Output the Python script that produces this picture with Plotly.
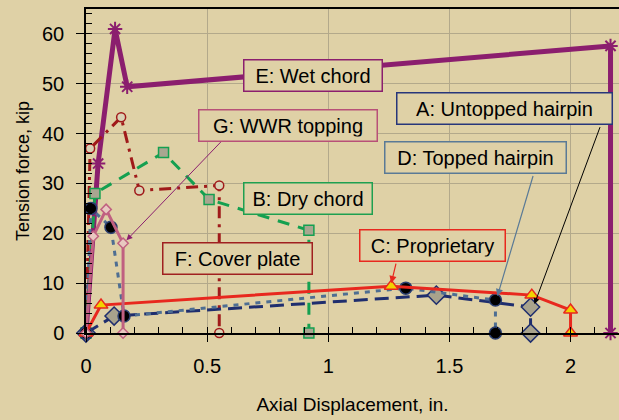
import plotly.graph_objects as go

# ---- data (Axial displacement in., Tension force kip) ----
a_x = [0, 0.116, 1.446, 1.835, 1.835]
a_y = [0, 3.4, 7.6, 5.2, 0]

b_x = [0, 0.037, 0.32, 0.508, 0.92, 0.92]
b_y = [0, 28.0, 36.2, 26.8, 20.6, 0]

c_x = [0, 0.062, 1.26, 1.84, 2.0, 2.0]
c_y = [0, 5.6, 9.4, 7.6, 4.6, 0]

d_x = [0, 0.02, 0.103, 0.157, 1.32, 1.69, 1.69]
d_y = [0, 25.0, 21.2, 3.4, 9.0, 6.6, 0]

e_x = [0, 0.05, 0.12, 0.17, 2.165, 2.165]
e_y = [0, 34.0, 61.0, 49.4, 57.6, 0]

f_x = [0, 0.017, 0.145, 0.22, 0.55, 0.55]
f_y = [0, 37.0, 43.3, 28.6, 29.6, 0]

g_x = [0, 0.03, 0.083, 0.153, 0.153]
g_y = [0, 19.4, 24.8, 18.0, 0]

x_ticks = [0, 0.5, 1, 1.5, 2]
x_ticktext = ["0", "0.5", "1", "1.5", "2"]
y_ticks = [0, 10, 20, 30, 40, 50, 60]

labels = {
    "A": "A: Untopped hairpin",
    "B": "B: Dry chord",
    "C": "C: Proprietary",
    "D": "D: Topped hairpin",
    "E": "E: Wet chord",
    "F": "F: Cover plate",
    "G": "G: WWR topping",
}

BG = "#DFD1A6"
FONT = "Arial, Liberation Sans, sans-serif"

fig = go.Figure()

def add(x, y, color, width, dash, msym, msize, mfill, mline, mlw=1.5):
    fig.add_trace(go.Scatter(
        x=x, y=y, mode="lines+markers", cliponaxis=False,
        line=dict(color=color, width=width, dash=dash),
        marker=dict(symbol=msym, size=msize, color=mfill,
                    line=dict(color=mline, width=mlw)),
        showlegend=False, hoverinfo="skip"))

add(e_x, e_y, "#8B1E6E", 5, "solid", "asterisk-open", 12, "#8B1E6E", "#8B1E6E", 2)
add(f_x, f_y, "#A01A1A", 3, "12px,6px,3px,6px", "circle", 9, "#D9D2B6", "#A01A1A")
add(b_x, b_y, "#14A050", 3, "12px,9px", "square", 10, "#A9A690", "#14A050")
add(a_x, a_y, "#1F2E6E", 3, "14px,7px", "diamond", 14, "#A9A38C", "#1F2E6E")
add(d_x, d_y, "#4E6E92", 3, "5px,6px", "circle", 12, "#000000", "#2A3E70")
add(c_x, c_y, "#E8281E", 3, "solid", "triangle-up", 12, "#F2D200", "#E8281E")
add(g_x, g_y, "#C06080", 3, "solid", "diamond", 8, "#E8C8C0", "#C06080")

def px2x(p):
    return (p - 86) / 242.0

def px2y(p):
    return (333 - p) / 5.0

boxes = [
    ("E", 313, 74.5, 140, "#8B1E6E"),
    ("G", 288, 124.5, 180, "#B85078"),
    ("A", 504.5, 108, 217, "#27367A"),
    ("D", 475.5, 156.5, 183, "#5A7A96"),
    ("B", 308, 198.5, 130, "#1EA050"),
    ("F", 237.5, 258, 151, "#A02020"),
    ("C", 432.5, 245, 147, "#E8281E"),
]

annotations = []
for key, cx, cy, w, col in boxes:
    annotations.append(dict(
        x=px2x(cx), y=px2y(cy), xref="x", yref="y", text=labels[key],
        showarrow=False, xanchor="center", yanchor="middle",
        font=dict(family=FONT, size=20, color="#000000"),
        bgcolor=BG, bordercolor=col, borderwidth=1.5, borderpad=4,
        width=w - 11, height=22))

arrows = [
    (px2x(222), px2y(140), g_x[3] + 0.014, g_y[3] + 0.6, "#8B1E6E", 1),
    (px2x(396), px2y(262), c_x[2], c_y[2] + 0.6, "#E8281E", 1.2),
    (px2x(533), px2y(174), d_x[5] + 0.008, d_y[5] + 0.8, "#5A7A96", 1.2),
    (px2x(600), px2y(125), a_x[3] + 0.016, a_y[3] + 0.6, "#000000", 1),
]
for tx, ty, hx, hy, col, lw in arrows:
    annotations.append(dict(
        x=hx, y=hy, ax=tx, ay=ty, xref="x", yref="y", axref="x", ayref="y",
        text="", showarrow=True, arrowhead=2, arrowsize=1.2, arrowwidth=lw,
        arrowcolor=col, standoff=0, startstandoff=0))

fig.update_layout(
    width=619, height=420,
    margin=dict(l=86, r=0, t=9, b=87),
    paper_bgcolor=BG, plot_bgcolor=BG,
    font=dict(family=FONT, size=20, color="#000000"),
    annotations=annotations,
    xaxis=dict(
        range=[0, 2.2], tickmode="array", tickvals=x_ticks, ticktext=x_ticktext,
        showgrid=True, gridcolor="#B3A98B", gridwidth=1, zeroline=False,
        showline=True, linecolor="#000000", linewidth=1.5, mirror=True,
        ticks="outside", ticklen=7, tickcolor="#000000", ticklabelstandoff=7,
        minor=dict(dtick=0.1, ticks="inside", ticklen=6, tickcolor="#000000", showgrid=False),
        title=dict(text="Axial Displacement, in.", font=dict(size=19), standoff=22),
        tickfont=dict(size=20),
    ),
    yaxis=dict(
        range=[0, 65], tickmode="array", tickvals=y_ticks,
        showgrid=True, gridcolor="#B3A98B", gridwidth=1, zeroline=False,
        showline=True, linecolor="#000000", linewidth=1.5,
        ticks="outside", ticklen=8, tickcolor="#000000", ticklabelstandoff=8,
        minor=dict(dtick=2, ticks="inside", ticklen=6, tickcolor="#000000", showgrid=False),
        title=dict(text="Tension force, kip", font=dict(size=18), standoff=8),
        tickfont=dict(size=20),
    ),
)

fig.write_html("out.html")
